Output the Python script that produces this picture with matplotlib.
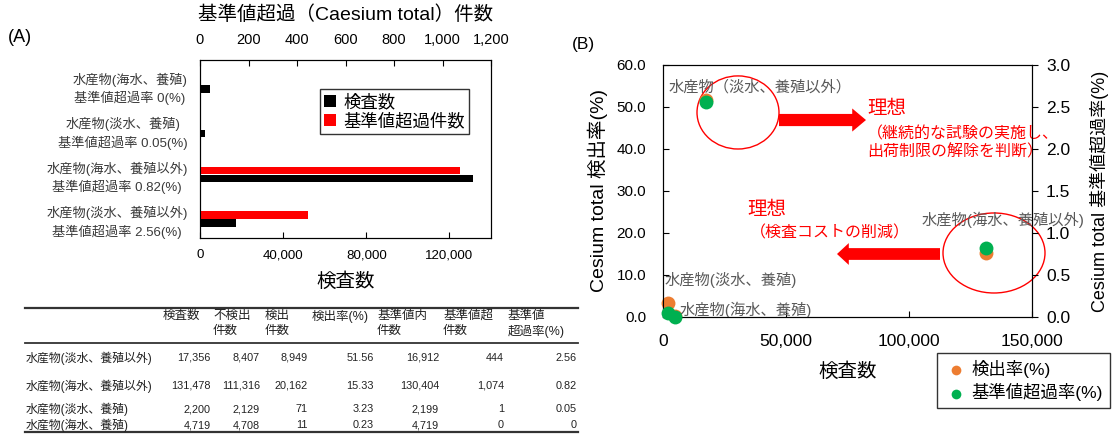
import numpy as np
import matplotlib
matplotlib.use('Agg')
import matplotlib.pyplot as plt
from matplotlib.patches import Ellipse, FancyArrow
from matplotlib.ticker import FuncFormatter

plt.rcParams['font.family'] = ['Liberation Sans', 'Noto Sans CJK JP']

W, H = 1116, 441

# data (table order)
categories = ['水産物(淡水、養殖以外)', '水産物(海水、養殖以外)', '水産物(淡水、養殖)', '水産物(海水、養殖)']
point_labels = ['水産物（淡水、養殖以外）', '水産物(海水、養殖以外)', '水産物(淡水、養殖)', '水産物(海水、養殖)']
inspections = [17356, 131478, 2200, 4719]
not_detected = [8407, 111316, 2129, 4708]
detected = [8949, 20162, 71, 11]
detection_rate = [51.56, 15.33, 3.23, 0.23]
within_limit = [16912, 130404, 2199, 4719]
over_limit = [444, 1074, 1, 0]
over_rate = [2.56, 0.82, 0.05, 0]

header_cols = ['検査数', '不検出\n件数', '検出\n件数', '検出率(%)', '基準値内\n件数', '基準値超\n件数', '基準値\n超過率(%)']

comma = FuncFormatter(lambda v, p: f'{v:,.0f}')


def fx(px):
    return px / W


def fy(py):
    return 1 - py / H


fig = plt.figure(figsize=(W / 100, H / 100), dpi=100)

# ---------------- panel A: bars ----------------
axA = fig.add_axes([fx(200), fy(238), 291 / W, 178 / H])
order = [3, 2, 1, 0]  # top to bottom
pos = np.arange(len(order))
bh = 0.166
axA.barh(pos + 0.086, [inspections[i] for i in order], height=bh, color='black', label='検査数')
axA.set_xlim(0, 140000)
axA.set_ylim(3.4266, -0.5675)
axA.set_xticks([0, 40000, 80000, 120000])
axA.xaxis.set_major_formatter(comma)
axA.set_yticks(pos)
axA.set_yticklabels([f'{categories[i]}\n基準値超過率 {over_rate[i]:g}(%)' for i in order],
                    fontsize=9.5, color='#3a3a3a', multialignment='center', linespacing=1.38)
axA.tick_params(axis='x', direction='in', length=4, labelsize=9.6, pad=8)
axA.tick_params(axis='y', length=0, pad=9)
axA.set_xlabel('検査数', fontsize=14, labelpad=8)

axA2 = axA.twiny()
axA2.barh(pos - 0.086, [over_limit[i] for i in order], height=bh, color='#ff0000', label='基準値超過件数')
axA2.set_xlim(0, 1200)
axA2.set_xticks(range(0, 1201, 200))
axA2.xaxis.set_major_formatter(comma)
axA2.tick_params(axis='x', direction='in', length=4, labelsize=10.5, pad=9)
axA2.set_xlabel('基準値超過（Caesium total）件数', fontsize=14, labelpad=10)

h1, l1 = axA.get_legend_handles_labels()
h2, l2 = axA2.get_legend_handles_labels()
legA = axA2.legend(h1 + h2, l1 + l2, loc='upper right', bbox_to_anchor=(fx(469), fy(89)),
                   bbox_transform=fig.transFigure, fontsize=12.5, fancybox=False, edgecolor='black',
                   borderaxespad=0, handlelength=0.7, handleheight=0.7, handletextpad=0.4,
                   labelspacing=0.15, borderpad=0.25)
legA.get_frame().set_linewidth(1.0)

# ---------------- panel B: scatter ----------------
axB = fig.add_axes([fx(663), fy(317), 369 / W, 252 / H])
axB.scatter(inspections, detection_rate, s=100, color='#ED7D31', linewidths=0,
            label='検出率(%)', clip_on=False, zorder=3)
axB.set_xlim(0, 150000)
axB.set_ylim(0, 60)
axB.set_xticks([0, 50000, 100000, 150000])
axB.xaxis.set_major_formatter(comma)
axB.set_yticks(np.arange(0, 61, 10))
axB.yaxis.set_major_formatter(FuncFormatter(lambda v, p: f'{v:.1f}'))
axB.tick_params(axis='x', direction='in', length=4, labelsize=12.5, pad=12)
axB.tick_params(axis='y', direction='in', length=4, labelsize=11, pad=12)
axB.set_xlabel('検査数', fontsize=14, labelpad=10)
axB.set_ylabel('Cesium total 検出率(%)', fontsize=14, labelpad=6)

axB2 = axB.twinx()
axB2.scatter(inspections, over_rate, s=100, color='#00B050', linewidths=0,
             label='基準値超過率(%)', clip_on=False, zorder=3)
axB2.set_ylim(0, 3)
axB2.set_yticks(np.arange(0, 3.01, 0.5))
axB2.yaxis.set_major_formatter(FuncFormatter(lambda v, p: f'{v:.1f}'))
axB2.tick_params(axis='y', direction='out', length=4, labelsize=12.5, pad=6)
axB2.set_ylabel('Cesium total 基準値超過率(%)', fontsize=13, labelpad=14)

label_offsets = [(-26.4, 9.6), (-47, 23.5), (-2.5, 16.8), (3.9, 4.3)]
for i, lab in enumerate(point_labels):
    axB.annotate(lab, xy=(inspections[i], detection_rate[i]), xytext=label_offsets[i],
                 textcoords='offset points', fontsize=11, color='#595959',
                 ha='left', va='center', annotation_clip=False)

axB.add_patch(Ellipse((30488, 48.7), 33333, 17.4, fill=False, edgecolor='red', lw=1, clip_on=False))
axB.add_patch(Ellipse((134553, 15.24), 41463, 19.05, fill=False, edgecolor='red', lw=1, clip_on=False))
axB.add_patch(FancyArrow(47154, 46.9, 35366, 0, width=2.9, head_width=5.5, head_length=5600,
                         length_includes_head=True, color='red', lw=0, clip_on=False))
axB.add_patch(FancyArrow(112600, 15.0, -41870, 0, width=2.8, head_width=5.2, head_length=4800,
                         length_includes_head=True, color='red', lw=0, clip_on=False))
axB.text(82927, 49.5, '理想', color='red', fontsize=14, ha='left', va='center')
axB.text(82927, 41.5, '（継続的な試験の実施し、\n出荷制限の解除を判断）', color='red',
         fontsize=11.5, ha='left', va='center', linespacing=1.2)
axB.text(34146, 25.5, '理想', color='red', fontsize=14, ha='left', va='center')
axB.text(35366, 20.0, '（検査コストの削減）', color='red', fontsize=11.5, ha='left', va='center')

hB1, lB1 = axB.get_legend_handles_labels()
hB2, lB2 = axB2.get_legend_handles_labels()
legB = axB2.legend(hB1 + hB2, lB1 + lB2, loc='upper right', bbox_to_anchor=(fx(1110), fy(353)),
                   bbox_transform=fig.transFigure, fontsize=12.5, fancybox=False, edgecolor='black',
                   borderaxespad=0, markerscale=0.7, handletextpad=0.2, labelspacing=0.3,
                   borderpad=0.4, handlelength=1.4)
legB.get_frame().set_linewidth(1.0)

fig.text(fx(8), fy(37), '(A)', fontsize=13, va='center')
fig.text(fx(572), fy(45), '(B)', fontsize=12.5, va='center')

# ---------------- table ----------------
tc = '#222222'
head_x = [163, 213, 265, 312, 377, 443, 508]
col_right = [211, 260, 308, 374, 439, 504, 577]
row_y = [358, 386, 409, 425]
for hx, htxt in zip(head_x, header_cols):
    fig.text(fx(hx), fy(310), htxt, fontsize=9, color=tc, ha='left', va='top', linespacing=1.3)
columns = [
    [f'{v:,}' for v in inspections],
    [f'{v:,}' for v in not_detected],
    [f'{v:,}' for v in detected],
    [f'{v:.2f}' for v in detection_rate],
    [f'{v:,}' for v in within_limit],
    [f'{v:,}' for v in over_limit],
    [f'{v:g}' for v in over_rate],
]
for r, cat in enumerate(categories):
    fig.text(fx(26), fy(row_y[r]), cat, fontsize=8.6, color=tc, ha='left', va='center')
    for c, col in enumerate(columns):
        fig.text(fx(col_right[c]), fy(row_y[r]), col[r], fontsize=7.8, color=tc, ha='right', va='center')

for ly, lw in [(308, 1.6), (343, 1.3), (432, 1.6)]:
    fig.add_artist(plt.Line2D([fx(25), fx(578)], [fy(ly), fy(ly)], color='#333333', lw=lw))

fig.savefig('out.png', dpi=100)
